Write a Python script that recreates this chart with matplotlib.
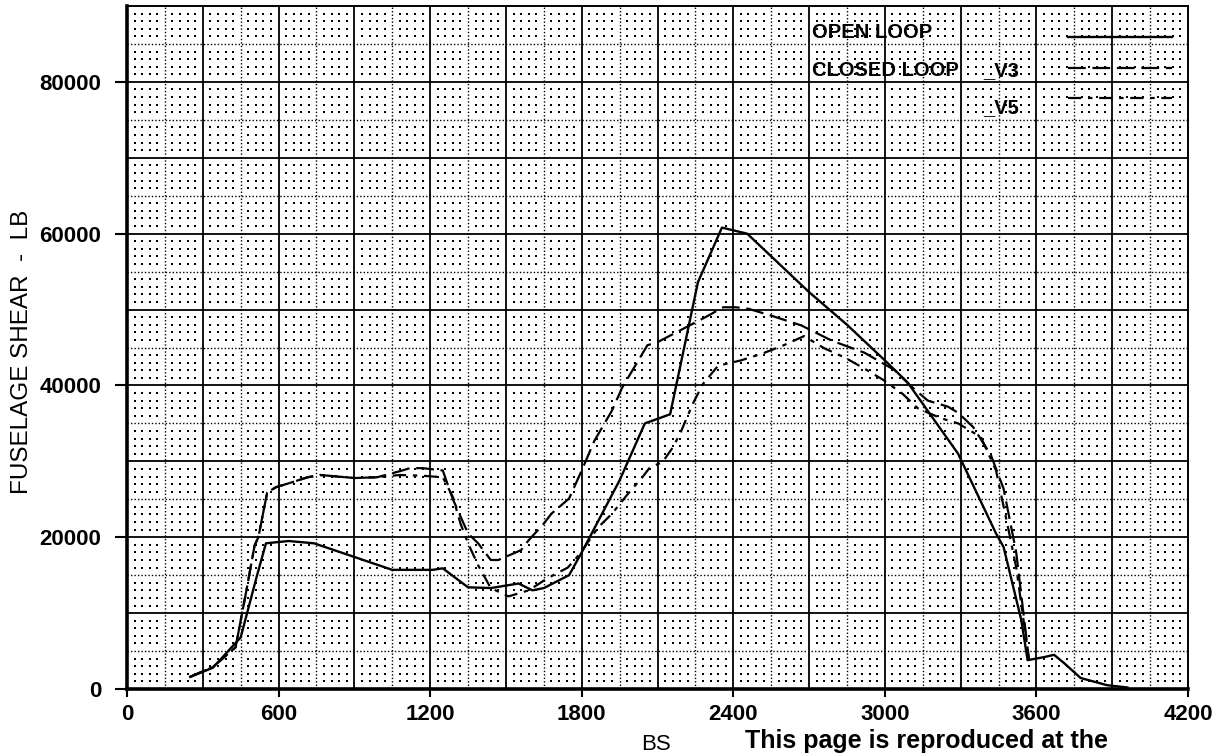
#!/usr/bin/env python3
"""
Fuselage shear vs BS — open loop vs closed loop (V3, V5), plotter-style grid paper.
"""
import numpy as np
import matplotlib
matplotlib.use("Agg")
import matplotlib.pyplot as plt

plt.rcParams["font.family"] = ["Liberation Sans", "DejaVu Sans"]

# ---- data (BS, lb) ----
OPEN_BS = [250, 340, 450, 515, 550, 640, 740, 900, 1050, 1210, 1250, 1350, 1440,
           1550, 1605, 1650, 1750, 1800, 1950, 2050, 2150, 2260, 2355, 2455, 2700,
           2850, 3000, 3090, 3290, 3440, 3470, 3540, 3565, 3630, 3670, 3710, 3775,
           3880, 3960]
OPEN_SHEAR = [1600, 2800, 6800, 15000, 19200, 19500, 19200, 17400, 15700, 15700,
              15900, 13400, 13300, 13900, 13000, 13300, 15000, 18000, 27500, 35000,
              36200, 53600, 60800, 60000, 52300, 48000, 43300, 40400, 31000, 20500,
              18700, 9100, 3800, 4200, 4500, 3400, 1450, 500, 200]

V3_BS = [250, 340, 430, 475, 505, 520, 555, 590, 630, 715, 765, 900, 990, 1080,
         1120, 1170, 1250, 1290, 1350, 1390, 1440, 1470, 1560, 1590, 1650, 1680,
         1750, 1800, 1850, 1920, 1960, 2060, 2100, 2290, 2360, 2410, 2460, 2550,
         2670, 2790, 2920, 3040, 3100, 3170, 3250, 3290, 3350, 3420, 3470, 3520,
         3570]
V3_SHEAR = [1600, 2900, 5500, 13400, 18900, 20000, 25900, 26600, 27000, 27900,
            28200, 27800, 27900, 28700, 29100, 29100, 28800, 25000, 20500, 19200,
            17000, 17000, 18300, 19600, 21800, 23100, 25100, 28800, 32700, 36700,
            39700, 45300, 45700, 49000, 50300, 50300, 50100, 49200, 47900, 45900,
            44300, 42000, 40000, 38000, 37200, 36400, 34500, 30800, 26400, 18000,
            4000]

V5_BS = [250, 340, 430, 475, 505, 520, 555, 590, 630, 715, 765, 900, 990, 1080,
         1170, 1250, 1290, 1320, 1350, 1390, 1440, 1510, 1590, 1665, 1745, 1795,
         1865, 1920, 1985, 2040, 2070, 2120, 2160, 2190, 2240, 2280, 2340, 2430,
         2515, 2600, 2680, 2760, 2840, 2920, 2995, 3070, 3130, 3220, 3290, 3380,
         3440, 3490, 3520, 3570]
V5_SHEAR = [1600, 2900, 5500, 13400, 18900, 20000, 25900, 26600, 27000, 27900,
            28200, 27800, 27900, 28200, 28100, 27900, 25300, 21800, 19200, 16300,
            13300, 12200, 13000, 14600, 16000, 17900, 21300, 23100, 25800, 27900,
            29200, 29900, 31800, 33700, 37600, 40200, 42600, 43300, 44200, 45300,
            46500, 44900, 43700, 42200, 40700, 38900, 37000, 35700, 35000, 33200,
            28800, 20900, 16000, 4000]

X_TICKS = [0, 600, 1200, 1800, 2400, 3000, 3600, 4200]
Y_TICKS = [0, 20000, 40000, 60000, 80000]

LEGEND_TEXT = ["OPEN LOOP", "CLOSED LOOP"]


fig = plt.figure(figsize=(12.27, 7.55), dpi=100)
ax = fig.add_axes([127 / 1227, 66 / 755, 1061 / 1227, 683 / 755])
ax.set_xlim(0, 4200)
ax.set_ylim(0, 90000)

# grid paper: solid every 300 / 10000, dotted every 150 / 5000, dots every 30 / 1000
ax.vlines(np.arange(300, 4200, 300), 0, 90000, color="black", lw=1.3, zorder=1)
ax.hlines(np.arange(10000, 90000, 10000), 0, 4200, color="black", lw=1.3, zorder=1)
ax.vlines(np.arange(150, 4200, 300), 0, 90000, color="black", lw=1.0,
          linestyles=(0, (1, 1.5)), zorder=1)
ax.hlines(np.arange(5000, 90000, 10000), 0, 4200, color="black", lw=1.0,
          linestyles=(0, (1, 1.5)), zorder=1)
dx = np.array([v for v in range(30, 4200, 30) if v % 150])
dy = np.array([v for v in range(1000, 90000, 1000) if v % 5000])
gx, gy = np.meshgrid(dx, dy)
ax.plot(gx.ravel(), gy.ravel(), ls="none", marker="s", ms=1.5, mew=0,
        color="black", zorder=1)

# curves
ax.plot(OPEN_BS, OPEN_SHEAR, color="black", lw=1.7, zorder=3)
ax.plot(V3_BS, V3_SHEAR, color="black", lw=1.6, dashes=(8, 3), zorder=3)
ax.plot(V5_BS, V5_SHEAR, color="black", lw=1.6, dashes=(6, 3, 2, 3), zorder=3)

# legend drawn plotter-style in axes fractions
lkw = dict(transform=ax.transAxes, fontsize=14.5, fontweight="bold", va="center",
           ha="left", zorder=4)
ax.text(0.6456, 0.9605, LEGEND_TEXT[0], **lkw)
ax.text(0.6456, 0.906, LEGEND_TEXT[1], **lkw)
ax.text(0.807, 0.906, "_V3", **lkw)
ax.text(0.807, 0.8507, "_V5", **lkw)
ax.plot([0.887, 0.985], [0.9546, 0.9546], transform=ax.transAxes, color="black",
        lw=1.7, zorder=4)
ax.plot([0.887, 0.985], [0.909, 0.909], transform=ax.transAxes, color="black",
        lw=1.6, dashes=(8, 3), zorder=4)
ax.plot([0.887, 0.985], [0.865, 0.865], transform=ax.transAxes, color="black",
        lw=1.6, dashes=(6, 3, 2, 3), zorder=4)

# axes frame and ticks
for side in ("left", "bottom"):
    ax.spines[side].set_linewidth(2.6)
for side in ("top", "right"):
    ax.spines[side].set_linewidth(1.4)
ax.set_xticks(X_TICKS)
ax.set_xticklabels([str(v) for v in X_TICKS])
ax.set_yticks(Y_TICKS)
ax.set_yticklabels([str(v) for v in Y_TICKS])
ax.tick_params(axis="x", direction="out", length=6, width=1.5, pad=5, labelsize=16)
ax.tick_params(axis="y", direction="out", length=8.5, width=1.5, pad=10, labelsize=16)
for lab in ax.get_xticklabels() + ax.get_yticklabels():
    lab.set_fontweight("bold")

fig.text(22 / 1227, 1 - 352 / 755, "FUSELAGE SHEAR  -  LB", rotation=90,
         ha="center", va="center", fontsize=17.5)
fig.text(656 / 1227, 1 - 744 / 755, "BS", ha="center", va="center", fontsize=16)
fig.text(745 / 1227, 2 / 755, "This page is reproduced at the",
         ha="left", va="bottom", fontsize=18, fontweight="bold")

fig.savefig("out.png", dpi=100)
plt.close(fig)
